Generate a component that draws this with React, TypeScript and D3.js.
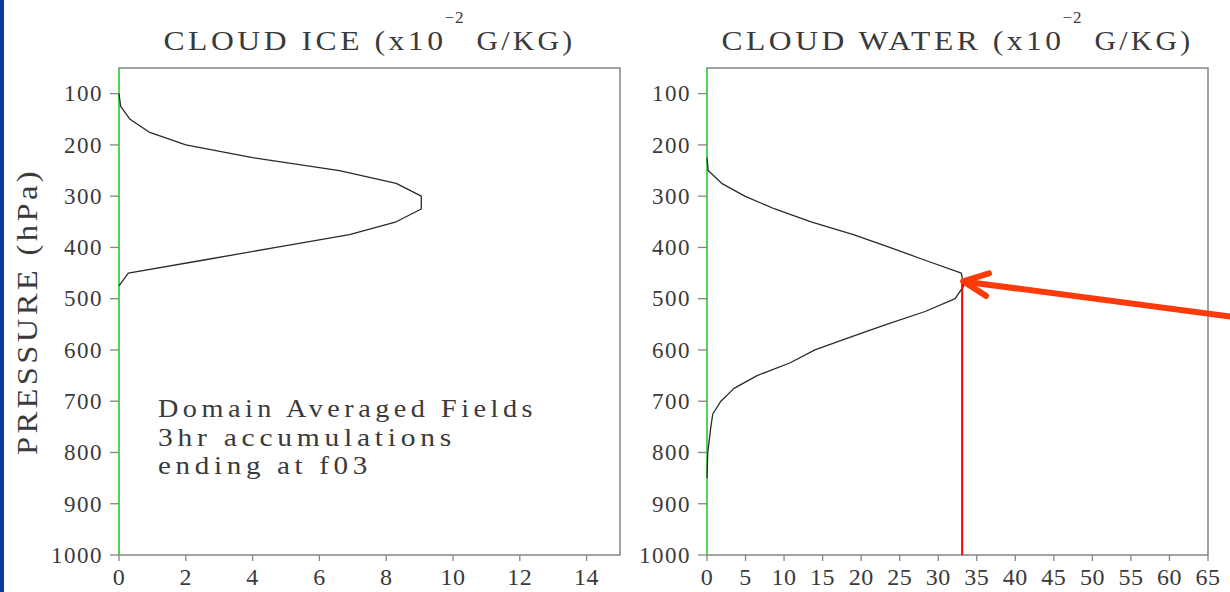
import React from 'react';
import * as d3 from 'd3';

// pressure levels (hPa), every 25 hPa
const LEVELS = [
  100, 125, 150, 175, 200, 225, 250, 275, 300, 325, 350, 375, 400, 425, 450, 475,
  500, 525, 550, 575, 600, 625, 650, 675, 700, 725, 750, 775, 800, 825, 850, 875,
  900, 925, 950, 975, 1000,
];

// cloud ice, x10^-2 g/kg
const CLOUD_ICE = [
  0, 0.05, 0.33, 0.9, 2.0, 4.0, 6.6, 8.3, 9.05, 9.05, 8.3, 6.9, 4.7, 2.5, 0.28, 0,
  0, 0, 0, 0, 0, 0, 0, 0, 0, 0, 0, 0, 0, 0, 0, 0,
  0, 0, 0, 0, 0,
];

// cloud water, x10^-2 g/kg
const CLOUD_WATER = [
  0, 0, 0, 0, 0, 0, 0.15, 1.9, 4.9, 8.8, 13.5, 19.0, 23.7, 28.3, 33.0, 33.3,
  32.2, 28.3, 23.3, 18.6, 14.0, 10.8, 6.5, 3.5, 1.8, 0.75, 0.5, 0.3, 0.1, 0.05, 0, 0,
  0, 0, 0, 0, 0,
];

const PRESSURE_TICKS = [100, 200, 300, 400, 500, 600, 700, 800, 900, 1000];
const ICE_TICKS = [0, 2, 4, 6, 8, 10, 12, 14];
const WATER_TICKS = [0, 5, 10, 15, 20, 25, 30, 35, 40, 45, 50, 55, 60, 65];

const NOTE_LINES = ['Domain Averaged Fields', '3hr accumulations', 'ending at f03'];
const NOTE_WIDTHS = [379, 298, 214];

// marker on the water profile (value, pressure) and where the arrow comes from
const MARK_VALUE = 33.1;
const MARK_PRESSURE = 466;
const ARROW_TAIL_VALUE = 68;
const ARROW_TAIL_PRESSURE = 535;

const W = 1230;
const H = 592;
const TOP = 68;
const BOTTOM = 555;
const PANEL_W = 501;
const FONT = 'Liberation Serif, DejaVu Serif, serif';
const FRAME = '#858585';
const GREEN = '#3fe03f';
const INK = '#2a2a2a';
const TEXT = '#3a3a3a';

const yScale = d3.scaleLinear().domain([50, 1000]).range([TOP, BOTTOM]);

type PanelProps = {
  left: number;
  values: number[];
  xMax: number;
  xTicks: number[];
  title: string;
  titleW: number;
};

const Panel = ({ left, values, xMax, xTicks, title, titleW }: PanelProps) => {
  const x = d3.scaleLinear().domain([0, xMax]).range([left, left + PANEL_W]);
  const line = d3.line<number>()
    .defined((v, i) => v > 0 || values[i - 1] > 0 || values[i + 1] > 0)
    .x(v => x(v))
    .y((v, i) => yScale(LEVELS[i]));
  const cx = left + PANEL_W / 2;
  // title pieces: main text, superscript, unit
  const unitW = 99;
  const startX = cx - titleW / 2;
  const mainW = titleW - unitW - 30;
  return (
    <g>
      <text x={startX} y={50} fontFamily={FONT} fontSize={27} fill={TEXT}
        letterSpacing={3} textLength={mainW} lengthAdjust="spacingAndGlyphs">{title}</text>
      <text x={startX + mainW - 2} y={23} fontFamily={FONT} fontSize={17} fill={TEXT}
        letterSpacing={1}>{'\u22122'}</text>
      <text x={startX + titleW - unitW} y={50} fontFamily={FONT} fontSize={27} fill={TEXT}
        letterSpacing={3} textLength={unitW} lengthAdjust="spacingAndGlyphs">G/KG)</text>

      <rect x={left} y={TOP} width={PANEL_W} height={BOTTOM - TOP}
        fill="none" stroke={FRAME} strokeWidth={1.5} />
      <line x1={left} x2={left} y1={TOP} y2={BOTTOM} stroke={GREEN} strokeWidth={1.6} />

      {PRESSURE_TICKS.map(p => (
        <g key={p}>
          <line x1={left - 9} x2={left} y1={yScale(p)} y2={yScale(p)} stroke={FRAME} strokeWidth={1.3} />
          <text x={left - 16} y={yScale(p) + 7.8} textAnchor="end" fontFamily={FONT}
            fontSize={23} letterSpacing={1.5} fill={TEXT}>{p}</text>
        </g>
      ))}
      {xTicks.map(t => (
        <g key={t}>
          <line x1={x(t)} x2={x(t)} y1={BOTTOM} y2={BOTTOM + 6} stroke={FRAME} strokeWidth={1.3} />
          <text x={x(t)} y={585} textAnchor="middle" fontFamily={FONT}
            fontSize={24} letterSpacing={0.5} fill={TEXT}>{t}</text>
        </g>
      ))}

      <path d={line(values) || ''} fill="none" stroke={INK} strokeWidth={1.3} strokeLinejoin="round" />
    </g>
  );
};

const App = () => {
  const xWater = d3.scaleLinear().domain([0, 65]).range([707, 707 + PANEL_W]);
  const tipX = xWater(MARK_VALUE);
  const tipY = yScale(MARK_PRESSURE);
  const tailX = xWater(ARROW_TAIL_VALUE);
  const tailY = yScale(ARROW_TAIL_PRESSURE);
  const ang = Math.atan2(tailY - tipY, tailX - tipX);
  const barb = 28;
  const spread = (24 * Math.PI) / 180;
  const b1 = [tipX + barb * Math.cos(ang - spread), tipY + barb * Math.sin(ang - spread)];
  const b2 = [tipX + barb * Math.cos(ang + spread), tipY + barb * Math.sin(ang + spread)];

  return (
    <div style={{ position: 'absolute', left: 0, top: 0 }}>
      <svg width={W} height={H} style={{ display: 'block', background: '#fff' }}>
        <rect x={0} y={0} width={4} height={H} fill="#0a3a9c" />

        <text transform="translate(37,311.5) rotate(-90)" textAnchor="middle"
          fontFamily={FONT} fontSize={29} fill={TEXT} letterSpacing={3} textLength={287}
          lengthAdjust="spacingAndGlyphs">PRESSURE (hPa)</text>

        <Panel left={119} values={CLOUD_ICE} xMax={15} xTicks={ICE_TICKS}
          title="CLOUD ICE (x10" titleW={412} />
        <Panel left={707} values={CLOUD_WATER} xMax={65} xTicks={WATER_TICKS}
          title="CLOUD WATER (x10" titleW={472} />

        {NOTE_LINES.map((t, i) => (
          <text key={t} x={158} y={417 + i * 28.7} fontFamily={FONT} fontSize={25}
            fill={TEXT} letterSpacing={4} textLength={NOTE_WIDTHS[i]}
            lengthAdjust="spacingAndGlyphs">{t}</text>
        ))}

        <line x1={tipX} x2={tipX} y1={tipY} y2={yScale(1000)} stroke="#ff0000" strokeWidth={2} />
        <g stroke="#ff3a0a" strokeWidth={6} strokeLinecap="round" fill="none">
          <line x1={tipX + 3} y1={tipY + 0.4} x2={tailX} y2={tailY} />
          <polyline points={`${b1[0]},${b1[1]} ${tipX + 1},${tipY} ${b2[0]},${b2[1]}`}
            strokeLinejoin="round" />
        </g>
      </svg>
    </div>
  );
};

export default App;
